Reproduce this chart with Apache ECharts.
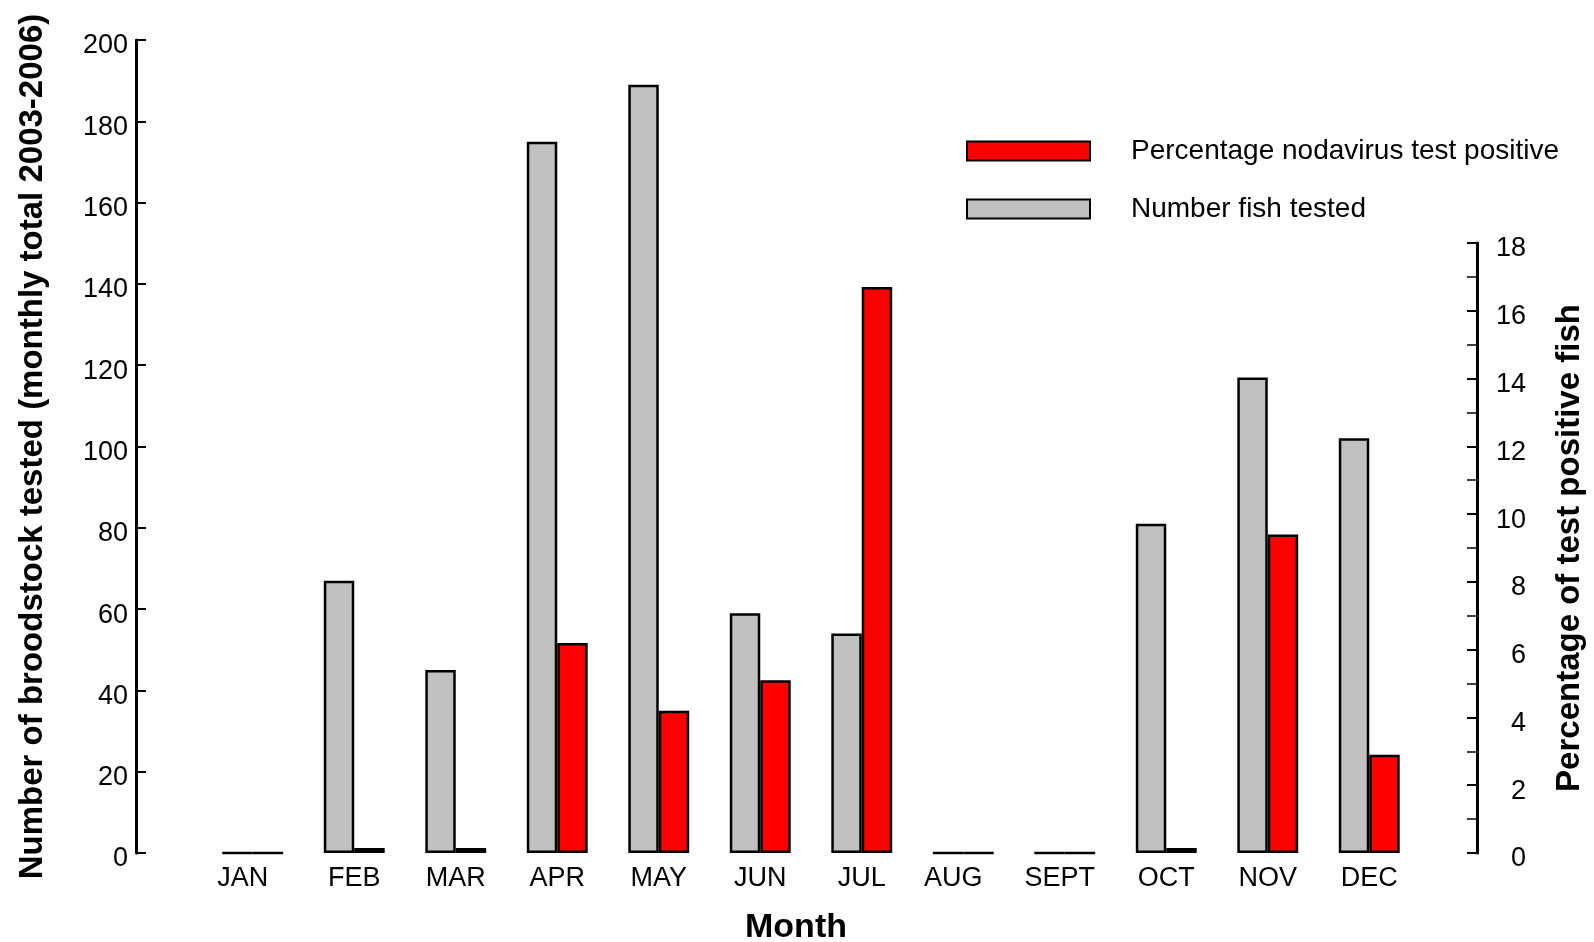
<!DOCTYPE html>
<html>
<head>
<meta charset="utf-8">
<script src="https://cdn.jsdelivr.net/npm/echarts@6/dist/echarts.min.js"></script>
<style>html,body{margin:0;padding:0;background:#fff}#c{width:1594px;height:942px}</style>
</head>
<body>
<div id="c"></div>
<script>
var months = ['JAN','FEB','MAR','APR','MAY','JUN','JUL','AUG','SEPT','OCT','NOV','DEC'];
var numberTested = [0, 67, 45, 175, 189, 59, 54, 0, 0, 81, 117, 102];
var percentPositive = [0, 0.15, 0.15, 6.2, 4.2, 5.1, 16.7, 0, 0, 0.15, 9.4, 2.9];
var leftTicks = {min: 0, max: 200, interval: 20};
var rightTicks = {min: 0, max: 18, interval: 2};

var FONT = 'Liberation Sans, Arial, sans-serif';
var chart = echarts.init(document.getElementById('c'), null, {renderer: 'canvas'});
var blanks = months.map(function(){ return '-'; });
var axisLineStyle = {color: '#000', width: 3};
// small label shifts seen in the reference for a few months
var labelShift = {JAN: 20, AUG: 20, SEPT: 10};
var monthItems = months.map(function(m){
  return labelShift[m] ? {value: m, textStyle: {padding: [0, labelShift[m], 0, 0]}} : m;
});
var tickRich = {t: {fontSize: 27, color: '#000', fontFamily: FONT, padding: [12, 0, 0, 0]}};

chart.setOption({
  animation: false,
  backgroundColor: '#fff',
  textStyle: {fontFamily: FONT},
  grid: [
    {left: 202, right: 174, top: 40, bottom: 89, containLabel: false, outerBoundsMode: 'none'},
    {left: 202, right: 174, top: 243, bottom: 89, containLabel: false, outerBoundsMode: 'none'}
  ],
  legend: {
    orient: 'vertical',
    left: 966, top: 137, padding: 0,
    icon: 'rect',
    itemWidth: 123, itemHeight: 19, itemGap: 30,
    data: ['Percentage nodavirus test positive', 'Number fish tested'],
    textStyle: {fontSize: 28, color: '#000', fontFamily: FONT, padding: [0, 0, 0, 36]}
  },
  xAxis: [
    {
      type: 'category', gridIndex: 0, data: monthItems,
      axisLine: {show: false}, axisTick: {show: false},
      axisLabel: {fontSize: 27, color: '#000', margin: 12, fontFamily: FONT, interval: 0},
      name: 'Month', nameLocation: 'middle', nameGap: 58,
      nameTextStyle: {fontSize: 34, fontWeight: 'bold', color: '#000', fontFamily: FONT, padding: [0, 30, 0, 0]}
    },
    {
      type: 'category', gridIndex: 1, data: months, show: false
    }
  ],
  yAxis: [
    {
      type: 'value', gridIndex: 0, position: 'left', offset: 66,
      min: leftTicks.min, max: leftTicks.max, interval: leftTicks.interval,
      axisLine: {show: true, lineStyle: axisLineStyle},
      axisTick: {show: true, inside: true, length: 10, lineStyle: {color: '#000', width: 2}},
      axisLabel: {fontSize: 27, color: '#000', margin: 8, fontFamily: FONT, formatter: '{t|{value}}', rich: tickRich},
      splitLine: {show: false},
      name: 'Number of broodstock tested (monthly total 2003-2006)',
      nameLocation: 'middle', nameRotate: 90, nameGap: 87,
      nameTextStyle: {fontSize: 33, fontWeight: 'bold', color: '#000', fontFamily: FONT}
    },
    {
      type: 'value', gridIndex: 1, position: 'right', offset: 57,
      min: rightTicks.min, max: rightTicks.max, interval: rightTicks.interval,
      axisLine: {show: true, lineStyle: axisLineStyle},
      axisTick: {show: true, inside: true, length: 10, lineStyle: {color: '#000', width: 2}},
      minorTick: {show: true, splitNumber: 2, length: 10, lineStyle: {color: '#000', width: 1.5}},
      axisLabel: {fontSize: 27, color: '#000', margin: 49, align: 'right', fontFamily: FONT, formatter: '{t|{value}}', rich: tickRich},
      splitLine: {show: false},
      name: 'Percentage of test positive fish',
      nameLocation: 'middle', nameRotate: 90, nameGap: 76,
      nameTextStyle: {fontSize: 33, fontWeight: 'bold', color: '#000', fontFamily: FONT}
    }
  ],
  series: [
    {
      name: 'Number fish tested', type: 'bar', xAxisIndex: 0, yAxisIndex: 0,
      data: numberTested, barGap: 0, barCategoryGap: '40%',
      itemStyle: {color: '#c0c0c0', borderColor: '#000', borderWidth: 2.5}
    },
    {
      name: 'spacer1', type: 'bar', xAxisIndex: 0, yAxisIndex: 0,
      data: blanks, barGap: 0, barCategoryGap: '40%', silent: true
    },
    {
      name: 'spacer2', type: 'bar', xAxisIndex: 1, yAxisIndex: 1,
      data: blanks, barGap: 0, barCategoryGap: '40%', silent: true
    },
    {
      name: 'Percentage nodavirus test positive', type: 'bar', xAxisIndex: 1, yAxisIndex: 1,
      data: percentPositive, barGap: 0, barCategoryGap: '40%',
      itemStyle: {color: '#ff0000', borderColor: '#000', borderWidth: 2.5}
    }
  ]
});
</script>
</body>
</html>
